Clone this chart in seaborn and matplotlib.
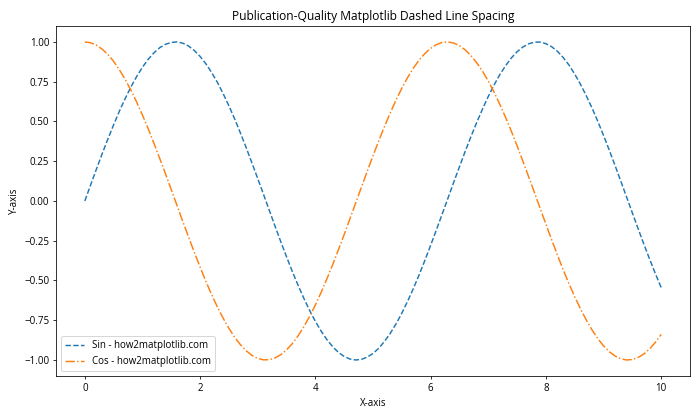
import matplotlib
matplotlib.use("Agg")
import matplotlib.pyplot as plt
import seaborn as sns
import pandas as pd

x_values = [0.0, 0.1, 0.2, 0.3, 0.4, 0.5, 0.6, 0.7, 0.8, 0.9,
            1.0, 1.1, 1.2, 1.3, 1.4, 1.5, 1.6, 1.7, 1.8, 1.9,
            2.0, 2.1, 2.2, 2.3, 2.4, 2.5, 2.6, 2.7, 2.8, 2.9,
            3.0, 3.1, 3.2, 3.3, 3.4, 3.5, 3.6, 3.7, 3.8, 3.9,
            4.0, 4.1, 4.2, 4.3, 4.4, 4.5, 4.6, 4.7, 4.8, 4.9,
            5.0, 5.1, 5.2, 5.3, 5.4, 5.5, 5.6, 5.7, 5.8, 5.9,
            6.0, 6.1, 6.2, 6.3, 6.4, 6.5, 6.6, 6.7, 6.8, 6.9,
            7.0, 7.1, 7.2, 7.3, 7.4, 7.5, 7.6, 7.7, 7.8, 7.9,
            8.0, 8.1, 8.2, 8.3, 8.4, 8.5, 8.6, 8.7, 8.8, 8.9,
            9.0, 9.1, 9.2, 9.3, 9.4, 9.5, 9.6, 9.7, 9.8, 9.9,
            10.0]
sin_values = [0.000, 0.100, 0.199, 0.296, 0.389, 0.479, 0.565, 0.644, 0.717, 0.783,
              0.841, 0.891, 0.932, 0.964, 0.985, 0.997, 1.000, 0.992, 0.974, 0.946,
              0.909, 0.863, 0.808, 0.746, 0.675, 0.598, 0.516, 0.427, 0.335, 0.239,
              0.141, 0.042, -0.058, -0.158, -0.256, -0.351, -0.443, -0.530, -0.612, -0.688,
              -0.757, -0.818, -0.872, -0.916, -0.952, -0.978, -0.994, -1.000, -0.996, -0.982,
              -0.959, -0.926, -0.883, -0.832, -0.773, -0.706, -0.631, -0.551, -0.465, -0.374,
              -0.279, -0.182, -0.083, 0.017, 0.117, 0.215, 0.312, 0.405, 0.494, 0.578,
              0.657, 0.729, 0.794, 0.850, 0.899, 0.938, 0.968, 0.988, 0.999, 0.999,
              0.989, 0.970, 0.941, 0.902, 0.855, 0.798, 0.734, 0.662, 0.585, 0.501,
              0.412, 0.319, 0.223, 0.124, 0.025, -0.075, -0.174, -0.272, -0.366, -0.458,
              -0.544]
cos_values = [1.000, 0.995, 0.980, 0.955, 0.921, 0.878, 0.825, 0.765, 0.697, 0.622,
              0.540, 0.454, 0.362, 0.267, 0.170, 0.071, -0.029, -0.129, -0.227, -0.323,
              -0.416, -0.505, -0.589, -0.666, -0.737, -0.801, -0.857, -0.904, -0.942, -0.971,
              -0.990, -0.999, -0.998, -0.987, -0.967, -0.936, -0.897, -0.848, -0.791, -0.726,
              -0.654, -0.575, -0.490, -0.401, -0.307, -0.211, -0.112, -0.012, 0.087, 0.187,
              0.284, 0.378, 0.469, 0.554, 0.635, 0.709, 0.776, 0.835, 0.886, 0.927,
              0.960, 0.983, 0.997, 1.000, 0.993, 0.977, 0.950, 0.914, 0.869, 0.816,
              0.754, 0.685, 0.608, 0.526, 0.439, 0.347, 0.251, 0.153, 0.054, -0.046,
              -0.146, -0.244, -0.340, -0.433, -0.520, -0.602, -0.678, -0.748, -0.811, -0.865,
              -0.911, -0.948, -0.975, -0.993, -1.000, -0.997, -0.984, -0.962, -0.930, -0.889,
              -0.839]
labels = ["Sin - how2matplotlib.com", "Cos - how2matplotlib.com"]

plt.rcParams['font.family'] = ['Open Sans', 'DejaVu Sans']
plt.rcParams['font.size'] = 10

df = pd.DataFrame({"x": x_values, "sin": sin_values, "cos": cos_values})

fig, ax = plt.subplots(figsize=(10, 6), dpi=70)
sns.lineplot(data=df, x="x", y="sin", ax=ax, color="#1f77b4", linestyle="--",
             linewidth=1.5, label=labels[0])
sns.lineplot(data=df, x="x", y="cos", ax=ax, color="#ff7f0e", linestyle="-.",
             linewidth=1.5, label=labels[1])
ax.set_title("Publication-Quality Matplotlib Dashed Line Spacing", fontsize=12.4)
ax.set_xlabel("X-axis")
ax.set_ylabel("Y-axis")
ax.legend(loc="lower left")
fig.subplots_adjust(left=0.08, right=0.9857, top=0.938, bottom=0.105)
fig.savefig("out.png", dpi=70)
